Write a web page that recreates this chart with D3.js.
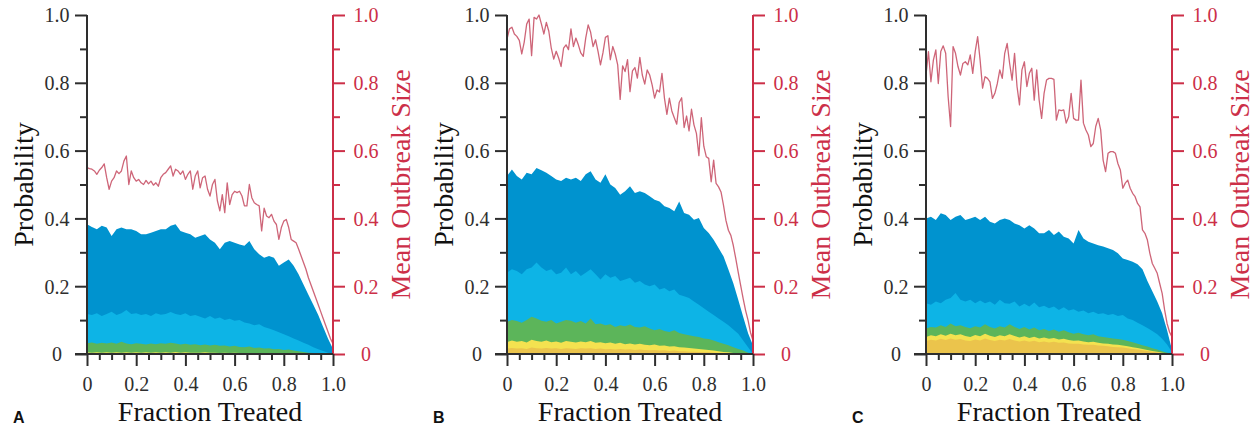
<!DOCTYPE html>
<html>
<head>
<meta charset="utf-8">
<script src="https://cdn.jsdelivr.net/npm/d3@7"></script>
<style>
  body { margin: 0; background: #fff; }
  svg { display: block; }
</style>
</head>
<body>
<div id="chart"></div>
<script>
// ---- data ----
const panelLetters = ["A", "B", "C"];
const probTicks = [0, 0.2, 0.4, 0.6, 0.8, 1.0];
const probTickLabels = ["0", "0.2", "0.4", "0.6", "0.8", "1.0"];
const fracTicks = [0, 0.2, 0.4, 0.6, 0.8, 1.0];
const fracTickLabels = ["0", "0.2", "0.4", "0.6", "0.8", "1.0"];
const areaStep = 0.02;  // fraction treated step for the stacked areas
const lineStep = 0.01;  // fraction treated step for mean outbreak size

// Panel A
const totalA = [0.383,0.375,0.368,0.378,0.373,0.348,0.368,0.373,0.368,0.368,
  0.363,0.353,0.353,0.358,0.363,0.368,0.368,0.378,0.383,0.363,
  0.358,0.353,0.343,0.348,0.353,0.338,0.328,0.309,0.328,0.333,
  0.328,0.323,0.319,0.333,0.309,0.294,0.284,0.289,0.284,0.260,
  0.270,0.279,0.260,0.235,0.205,0.175,0.145,0.115,0.080,0.045,0.015];
const lightA = [0.118,0.115,0.120,0.112,0.118,0.125,0.115,0.120,0.130,0.118,
  0.120,0.115,0.118,0.112,0.120,0.116,0.118,0.124,0.118,0.115,
  0.120,0.112,0.115,0.110,0.105,0.112,0.104,0.108,0.100,0.104,
  0.098,0.100,0.093,0.090,0.085,0.088,0.080,0.075,0.070,0.064,
  0.058,0.052,0.046,0.040,0.033,0.027,0.020,0.014,0.009,0.004,0];
const greenA = [0.032,0.034,0.030,0.033,0.031,0.034,0.030,0.036,0.031,0.029,
  0.032,0.030,0.028,0.031,0.029,0.032,0.030,0.033,0.031,0.028,
  0.030,0.027,0.029,0.026,0.028,0.025,0.027,0.024,0.025,0.022,
  0.024,0.021,0.020,0.022,0.018,0.019,0.016,0.017,0.014,0.015,
  0.012,0.013,0.010,0.008,0.006,0.004,0.003,0.002,0.001,0,0];
const yellowA = [0.005,0.004,0.005,0.004,0.005,0.004,0.005,0.004,0.005,0.004,
  0.005,0.004,0.005,0.004,0.005,0.004,0.005,0.004,0.006,0.004,
  0.005,0.004,0.004,0.004,0.005,0.004,0.004,0.003,0.004,0.003,
  0.004,0.003,0.003,0.003,0.003,0.002,0.002,0.002,0.002,0.002,
  0.001,0.001,0.001,0.001,0,0,0,0,0,0,0];
const goldA = [0.001,0.001,0.001,0.001,0.001,0.001,0.001,0.001,0.001,0.001,
  0.001,0.001,0.001,0.001,0.001,0.001,0.001,0.001,0.001,0.001,
  0.001,0.001,0.001,0.001,0.001,0.001,0.001,0.001,0.001,0.001,
  0,0,0,0,0,0,0,0,0,0,0,0,0,0,0,0,0,0,0,0,0];
const sizeA = [0.550,0.547,0.545,0.540,0.530,0.542,0.550,0.561,0.520,0.486,
  0.510,0.520,0.540,0.532,0.540,0.569,0.584,0.500,0.540,0.520,
  0.510,0.515,0.505,0.500,0.512,0.502,0.510,0.498,0.505,0.495,
  0.520,0.530,0.535,0.545,0.555,0.525,0.545,0.540,0.530,0.540,
  0.515,0.530,0.540,0.486,0.525,0.540,0.490,0.520,0.525,0.486,
  0.466,0.500,0.515,0.452,0.422,0.470,0.417,0.505,0.441,0.470,
  0.480,0.476,0.480,0.466,0.437,0.437,0.500,0.461,0.446,0.441,
  0.437,0.363,0.430,0.407,0.402,0.412,0.392,0.382,0.338,0.373,
  0.392,0.397,0.373,0.338,0.333,0.328,0.310,0.290,0.270,0.250,
  0.225,0.205,0.185,0.165,0.145,0.125,0.105,0.085,0.065,0.045,0.030];

// Panel B
const totalB = [0.525,0.544,0.525,0.515,0.535,0.530,0.549,0.542,0.535,0.525,
  0.515,0.510,0.520,0.515,0.520,0.510,0.530,0.539,0.515,0.505,
  0.530,0.500,0.490,0.470,0.480,0.495,0.475,0.480,0.475,0.465,
  0.455,0.450,0.436,0.431,0.421,0.450,0.416,0.411,0.396,0.401,
  0.372,0.357,0.337,0.313,0.288,0.249,0.209,0.160,0.110,0.061,0.025];
const lightB = [0.240,0.250,0.245,0.235,0.250,0.255,0.270,0.255,0.245,0.250,
  0.235,0.240,0.255,0.235,0.245,0.230,0.240,0.250,0.235,0.220,
  0.235,0.225,0.230,0.215,0.220,0.225,0.210,0.215,0.205,0.200,
  0.205,0.190,0.195,0.185,0.190,0.175,0.170,0.165,0.155,0.145,
  0.135,0.125,0.115,0.105,0.095,0.085,0.072,0.060,0.040,0.020,0];
const greenB = [0.095,0.100,0.097,0.092,0.100,0.110,0.105,0.098,0.095,0.100,
  0.090,0.095,0.100,0.098,0.092,0.097,0.090,0.105,0.088,0.090,
  0.085,0.088,0.080,0.085,0.082,0.087,0.080,0.078,0.082,0.075,
  0.070,0.074,0.068,0.065,0.070,0.062,0.058,0.055,0.052,0.050,
  0.046,0.044,0.040,0.035,0.030,0.026,0.020,0.015,0.010,0.004,0];
const yellowB = [0.035,0.040,0.036,0.038,0.034,0.042,0.038,0.036,0.040,0.035,
  0.037,0.033,0.038,0.036,0.034,0.037,0.035,0.038,0.033,0.035,
  0.032,0.034,0.030,0.033,0.029,0.031,0.028,0.030,0.027,0.026,
  0.028,0.024,0.025,0.022,0.023,0.020,0.019,0.018,0.016,0.015,
  0.013,0.012,0.010,0.008,0.006,0.005,0.003,0.002,0.001,0,0];
const goldB = [0.016,0.018,0.016,0.017,0.015,0.019,0.017,0.016,0.018,0.016,
  0.017,0.015,0.017,0.016,0.015,0.017,0.016,0.017,0.015,0.016,
  0.014,0.015,0.013,0.015,0.013,0.014,0.012,0.013,0.012,0.011,
  0.012,0.010,0.011,0.009,0.010,0.008,0.008,0.007,0.007,0.006,
  0.005,0.005,0.004,0.003,0.002,0.002,0.001,0.001,0,0,0];
const sizeB = [0.929,0.959,0.964,0.944,0.937,0.925,0.885,0.920,0.973,0.988,
  0.880,0.993,0.988,1.000,0.973,0.944,0.978,0.952,0.902,0.870,
  0.893,0.873,0.848,0.902,0.912,0.898,0.959,0.907,0.932,0.912,
  0.888,0.878,0.932,0.971,0.949,0.907,0.927,0.893,0.853,0.888,
  0.934,0.939,0.868,0.907,0.885,0.853,0.751,0.850,0.833,0.868,
  0.774,0.835,0.845,0.814,0.875,0.823,0.796,0.838,0.823,0.794,
  0.755,0.779,0.773,0.828,0.755,0.707,0.755,0.717,0.697,0.678,
  0.742,0.756,0.668,0.702,0.658,0.722,0.676,0.651,0.585,0.697,
  0.613,0.582,0.577,0.508,0.572,0.503,0.493,0.478,0.439,0.394,
  0.365,0.350,0.320,0.281,0.241,0.202,0.163,0.128,0.099,0.063,0.040];

// Panel C
const totalC = [0.400,0.405,0.395,0.415,0.410,0.395,0.405,0.410,0.395,0.400,
  0.405,0.395,0.405,0.390,0.385,0.395,0.400,0.395,0.385,0.380,
  0.370,0.380,0.370,0.356,0.356,0.366,0.351,0.361,0.346,0.341,
  0.326,0.366,0.341,0.331,0.326,0.321,0.317,0.312,0.307,0.297,
  0.282,0.277,0.272,0.265,0.250,0.215,0.185,0.155,0.120,0.070,0.012];
const lightC = [0.150,0.145,0.155,0.150,0.160,0.165,0.180,0.160,0.155,0.160,
  0.150,0.158,0.150,0.155,0.145,0.160,0.150,0.148,0.155,0.140,
  0.148,0.140,0.152,0.138,0.142,0.135,0.140,0.130,0.138,0.128,
  0.132,0.125,0.128,0.120,0.125,0.118,0.120,0.115,0.118,0.112,
  0.115,0.105,0.100,0.092,0.085,0.077,0.068,0.058,0.045,0.028,0.005];
const greenC = [0.075,0.080,0.078,0.085,0.080,0.090,0.082,0.085,0.080,0.076,
  0.082,0.078,0.088,0.080,0.075,0.082,0.078,0.088,0.080,0.074,
  0.080,0.072,0.078,0.070,0.074,0.068,0.072,0.066,0.070,0.064,
  0.060,0.063,0.058,0.055,0.058,0.052,0.050,0.048,0.046,0.044,
  0.042,0.038,0.035,0.030,0.026,0.022,0.017,0.013,0.008,0.004,0];
const yellowC = [0.050,0.055,0.052,0.058,0.054,0.060,0.055,0.058,0.053,0.050,
  0.056,0.052,0.060,0.054,0.050,0.055,0.052,0.058,0.053,0.049,
  0.052,0.047,0.051,0.046,0.049,0.045,0.047,0.043,0.045,0.041,
  0.039,0.040,0.037,0.035,0.036,0.033,0.031,0.030,0.028,0.027,
  0.025,0.023,0.020,0.018,0.015,0.012,0.009,0.007,0.004,0.002,0];
const goldC = [0.038,0.042,0.040,0.045,0.041,0.046,0.042,0.044,0.040,0.038,
  0.043,0.040,0.046,0.041,0.038,0.042,0.040,0.044,0.040,0.037,
  0.040,0.036,0.039,0.035,0.037,0.034,0.036,0.033,0.034,0.031,
  0.030,0.030,0.028,0.027,0.027,0.025,0.024,0.023,0.021,0.020,
  0.019,0.017,0.015,0.013,0.011,0.009,0.007,0.005,0.003,0.001,0];
const sizeC = [0.823,0.892,0.803,0.867,0.897,0.798,0.892,0.909,0.887,0.759,
  0.671,0.907,0.887,0.848,0.823,0.857,0.862,0.853,0.882,0.828,
  0.892,0.936,0.867,0.784,0.818,0.813,0.803,0.754,0.769,0.798,
  0.838,0.813,0.887,0.916,0.857,0.808,0.887,0.789,0.735,0.838,
  0.862,0.789,0.828,0.843,0.749,0.838,0.749,0.695,0.769,0.808,
  0.813,0.813,0.810,0.690,0.720,0.718,0.720,0.681,0.700,0.769,
  0.695,0.690,0.690,0.808,0.681,0.661,0.646,0.612,0.621,0.671,
  0.695,0.661,0.572,0.538,0.592,0.597,0.597,0.592,0.562,0.543,
  0.489,0.504,0.513,0.489,0.474,0.464,0.444,0.434,0.366,0.356,
  0.336,0.297,0.267,0.253,0.238,0.208,0.179,0.130,0.090,0.065,0.050];

const panels = [
  { letter: panelLetters[0], layers: [totalA, lightA, greenA, yellowA, goldA], size: sizeA },
  { letter: panelLetters[1], layers: [totalB, lightB, greenB, yellowB, goldB], size: sizeB },
  { letter: panelLetters[2], layers: [totalC, lightC, greenC, yellowC, goldC], size: sizeC }
];

// ---- layout ----
const W = 1255, H = 431;
const panelX = [87, 507, 926];   // left axis position of each panel
const plotW = 246;
const plotTop = 15, plotBottom = 354;
const layerColors = ["#0093cf", "#0db4e6", "#5cb55a", "#f4e250", "#ebc44c"];
const ink = "#2e2e2e";
const red = "#cc2f48";
const serif = "'Liberation Serif', 'Times New Roman', Times, serif";
const sans = "'Liberation Sans', Arial, Helvetica, sans-serif";

const svg = d3.select("#chart").append("svg")
  .attr("width", W)
  .attr("height", H);

const x = d3.scaleLinear().domain([0, 1]).range([0, plotW]);
const y = d3.scaleLinear().domain([0, 1]).range([plotBottom, plotTop]);

panels.forEach((p, pi) => {
  const g = svg.append("g").attr("transform", `translate(${panelX[pi]},0)`);

  // stacked probability areas (each drawn from zero, largest first)
  const area = d3.area()
    .x((d, i) => x(i * areaStep))
    .y0(y(0))
    .y1(d => y(d));
  p.layers.forEach((vals, li) => {
    g.append("path")
      .datum(vals)
      .attr("fill", layerColors[li])
      .attr("d", area);
  });

  // mean outbreak size line
  const line = d3.line()
    .x((d, i) => x(i * lineStep))
    .y(d => y(d));
  g.append("path")
    .datum(p.size)
    .attr("fill", "none")
    .attr("stroke", "#c95469")
    .attr("stroke-width", 1.3)
    .attr("stroke-opacity", 0.9)
    .attr("stroke-linejoin", "round")
    .attr("d", line);

  // left axis: minor then major
  const minorY = d3.range(1, 10, 2).map(v => v / 10);
  g.append("g")
    .call(d3.axisLeft(y).tickValues(minorY).tickSize(7).tickFormat(""))
    .call(a => a.select(".domain").remove());
  const leftAx = g.append("g")
    .call(d3.axisLeft(y).tickValues(probTicks).tickSize(12).tickSizeOuter(0)
      .tickFormat((d, i) => probTickLabels[i]));
  leftAx.select(".domain").attr("d", `M0,${plotTop}V${plotBottom}`);
  leftAx.selectAll("text")
    .attr("x", -30).attr("dy", "0.34em")
    .attr("text-anchor", "middle");

  // right axis (red)
  const rightAx = g.append("g").attr("transform", `translate(${plotW},0)`);
  rightAx.append("g")
    .call(d3.axisRight(y).tickValues(minorY).tickSize(7).tickFormat(""))
    .call(a => a.select(".domain").remove());
  const rMajor = rightAx.append("g")
    .call(d3.axisRight(y).tickValues(probTicks).tickSize(12).tickSizeOuter(0)
      .tickFormat((d, i) => probTickLabels[i]));
  rMajor.select(".domain").attr("d", `M0,${plotTop}V${plotBottom}`);
  rMajor.selectAll("text")
    .attr("x", 33).attr("dy", "0.34em")
    .attr("text-anchor", "middle");
  rightAx.selectAll("line, path").attr("stroke", red);
  rightAx.selectAll("text").attr("fill", red);

  // bottom axis: minor ticks every 0.05, major every 0.2
  const minorX = d3.range(1, 20).filter(k => k % 4 !== 0).map(k => k / 20);
  g.append("g")
    .attr("transform", `translate(0,${plotBottom})`)
    .call(d3.axisBottom(x).tickValues(minorX).tickSize(6).tickFormat(""))
    .call(a => a.select(".domain").remove());
  const botAx = g.append("g")
    .attr("transform", `translate(0,${plotBottom})`)
    .call(d3.axisBottom(x).tickValues(fracTicks).tickSize(12).tickSizeOuter(0)
      .tickFormat((d, i) => fracTickLabels[i]));
  botAx.select(".domain").attr("d", `M0,0H${plotW}`);
  botAx.selectAll("text").attr("y", 23);

  g.selectAll(".tick text")
    .style("font-family", serif)
    .style("font-size", "20px");
  g.selectAll(".tick text").filter(function () { return this.getAttribute("fill") !== red; })
    .attr("fill", ink);
  g.selectAll("line, path.domain").filter(function () { return this.getAttribute("stroke") !== red; })
    .attr("stroke", ink);
  g.selectAll(".tick line, path.domain").attr("stroke-width", 2);

  // extend x-axis line to the left to meet the y tick at 0
  g.append("line")
    .attr("x1", -12).attr("x2", 0)
    .attr("y1", y(0)).attr("y2", y(0))
    .attr("stroke", ink).attr("stroke-width", 2);

  // titles
  const midY = (plotTop + plotBottom) / 2;
  g.append("text")
    .attr("transform", `translate(-54,${midY}) rotate(-90)`)
    .attr("text-anchor", "middle")
    .style("font-family", serif)
    .style("font-size", "28px")
    .attr("fill", "#111")
    .text("Probability");
  g.append("text")
    .attr("transform", `translate(${plotW + 77},${midY}) rotate(-90)`)
    .attr("text-anchor", "middle")
    .style("font-family", serif)
    .style("font-size", "28px")
    .attr("fill", red)
    .text("Mean Outbreak Size");
  g.append("text")
    .attr("x", plotW / 2)
    .attr("y", 421)
    .attr("text-anchor", "middle")
    .style("font-family", serif)
    .style("font-size", "28px")
    .attr("fill", "#111")
    .text("Fraction Treated");

  // panel letter
  g.append("text")
    .attr("x", -74)
    .attr("y", 423)
    .style("font-family", sans)
    .style("font-weight", "bold")
    .style("font-size", "16px")
    .attr("fill", "#111")
    .text(p.letter);
});
</script>
</body>
</html>
